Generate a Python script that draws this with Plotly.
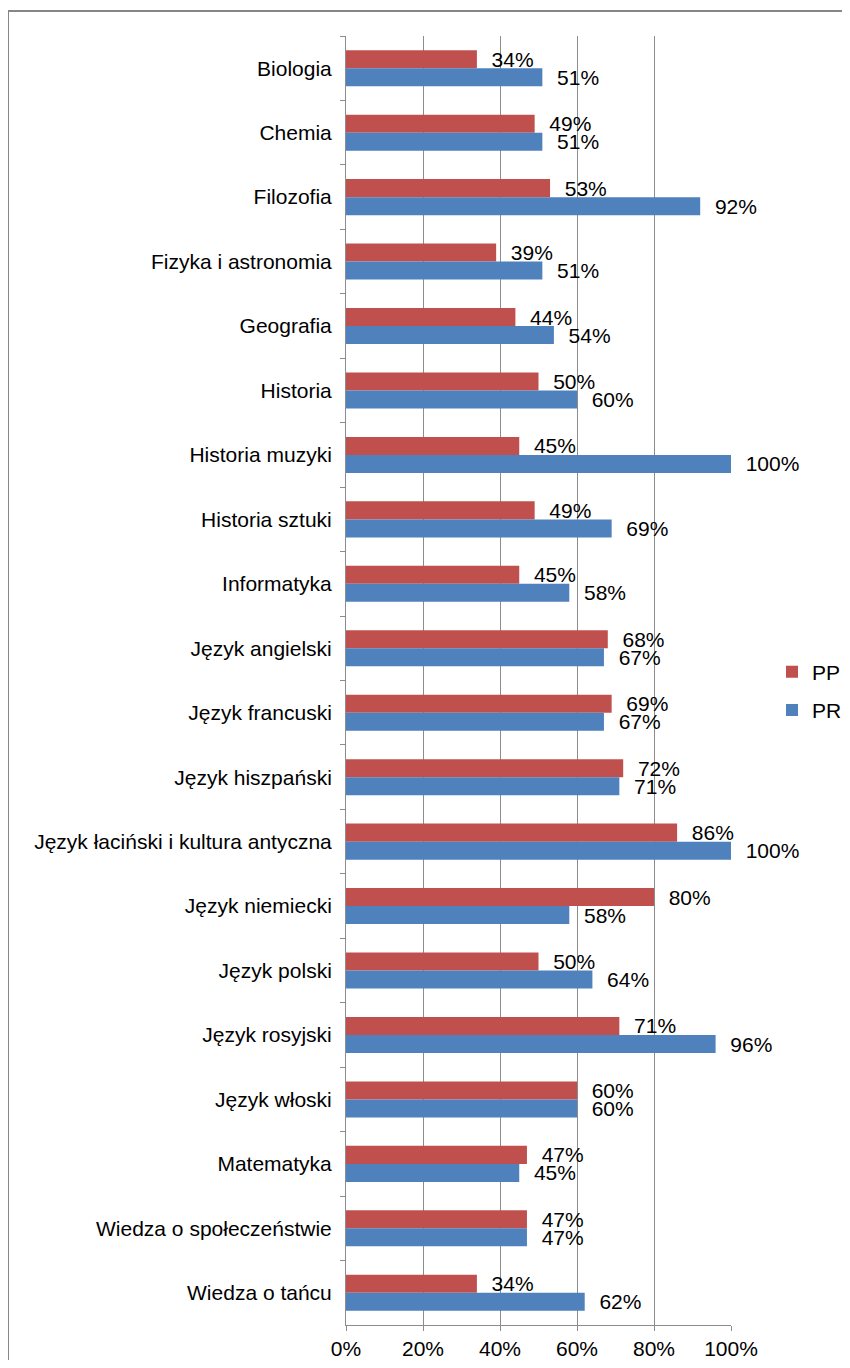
import plotly.graph_objects as go

categories = [
    "Biologia", "Chemia", "Filozofia", "Fizyka i astronomia", "Geografia",
    "Historia", "Historia muzyki", "Historia sztuki", "Informatyka",
    "Język angielski", "Język francuski", "Język hiszpański",
    "Język łaciński i kultura antyczna", "Język niemiecki", "Język polski",
    "Język rosyjski", "Język włoski", "Matematyka",
    "Wiedza o społeczeństwie", "Wiedza o tańcu",
]
pp_values = [34, 49, 53, 39, 44, 50, 45, 49, 45, 68, 69, 72, 86, 80, 50, 71, 60, 47, 47, 34]
pr_values = [51, 51, 92, 51, 54, 60, 100, 69, 58, 67, 67, 71, 100, 58, 64, 96, 60, 45, 47, 62]
x_ticks = [0, 20, 40, 60, 80, 100]
x_tick_labels = ["0%", "20%", "40%", "60%", "80%", "100%"]

FONT = "Liberation Sans, Arial, sans-serif"
FS = 21
RED = "#C0504D"
BLUE = "#4F81BD"
GRID = "#8C8C8C"

# figure geometry (page has an 8px body margin on every side)
W, H = 834, 1352
L, R, T, B = 338, 111, 28, 35
PW = W - L - R
PH = H - T - B

fig = go.Figure()
fig.add_trace(go.Bar(
    y=categories, x=pp_values, name="PP", orientation="h",
    marker=dict(color=RED, line=dict(width=0)),
    text=[f"\u00a0\u00a0{v}%" for v in pp_values],
    textposition="outside", constraintext="none", cliponaxis=False,
    textfont=dict(family=FONT, size=FS, color="#000000"),
    legendgroup="pp",
))
fig.add_trace(go.Bar(
    y=categories, x=pr_values, name="PR", orientation="h",
    marker=dict(color=BLUE, line=dict(width=0)),
    text=[f"\u00a0\u00a0{v}%" for v in pr_values],
    textposition="outside", constraintext="none", cliponaxis=False,
    textfont=dict(family=FONT, size=FS, color="#000000"),
    legendgroup="pr",
))

# outer chart border (extends past right / bottom edges like the reference)
fig.add_shape(type="rect", xref="paper", yref="paper",
              x0=(0 - L) / PW, x1=(W + 20 - L) / PW,
              y0=(T + PH - (H + 20)) / PH, y1=(T + PH - 3) / PH,
              line=dict(color="#868686", width=2), layer="below")

fig.update_layout(
    width=W, height=H,
    margin=dict(l=L, r=R, t=T, b=B, autoexpand=False),
    paper_bgcolor="white", plot_bgcolor="white",
    barmode="group", bargap=0.44, bargroupgap=0,
    font=dict(family=FONT, size=FS, color="#000000"),
    showlegend=True,
    legend=dict(x=(764 - L) / PW, y=(T + PH - 683) / PH,
                xanchor="left", yanchor="middle",
                traceorder="grouped", tracegroupgap=8,
                font=dict(family=FONT, size=FS, color="#000000"),
                bgcolor="rgba(0,0,0,0)", itemwidth=30),
    xaxis=dict(range=[0, 100], tickvals=x_ticks, ticktext=x_tick_labels,
               showgrid=True, gridcolor=GRID, gridwidth=1,
               showline=True, linecolor=GRID, linewidth=1,
               ticks="outside", ticklen=5, tickcolor=GRID,
               zeroline=False, tickfont=dict(family=FONT, size=FS)),
    yaxis=dict(autorange="reversed", type="category",
               showgrid=False, showline=True, linecolor=GRID, linewidth=1,
               ticks="outside", ticklen=5, tickcolor=GRID, tickson="boundaries",
               ticklabelstandoff=9,
               tickfont=dict(family=FONT, size=FS)),
)

fig.write_html("out.html")
